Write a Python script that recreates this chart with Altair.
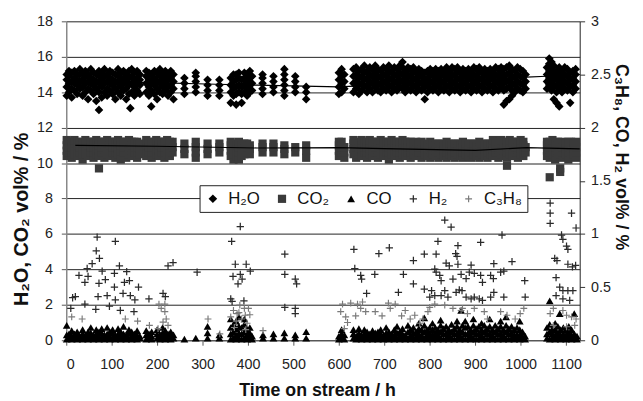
import altair as alt
import pandas as pd

# ---------------- data ----------------
# each tuple: (time on stream / h, value, value, ...)
H2O = [
    (1, 13.8, 14.3, 14.7, 15.0), (6, 14.0, 14.5, 14.9, 15.2), (12, 13.7, 14.2, 14.6, 15.1),
    (18, 14.1, 14.5, 14.8, 15.2), (24, 13.9, 14.4, 14.7, 15.0), (30, 14.2, 14.6, 15.0, 15.3),
    (36, 13.8, 14.3, 14.7, 15.1), (42, 14.0, 14.5, 14.9, 15.2), (48, 13.6, 14.2, 14.6, 15.0),
    (54, 14.1, 14.5, 14.8, 15.3), (60, 13.9, 14.4, 14.7, 15.1), (66, 13.5, 14.2, 14.6, 15.0),
    (72, 13.0, 14.0, 14.5, 14.9, 15.2), (78, 13.7, 14.3, 14.7, 15.1), (84, 14.0, 14.5, 14.9, 15.3),
    (90, 13.8, 14.2, 14.6, 15.0), (96, 14.1, 14.5, 14.8, 15.2), (102, 13.9, 14.4, 14.7, 15.1),
    (108, 13.6, 14.2, 14.6, 15.0), (114, 14.0, 14.5, 14.9, 15.3), (120, 13.8, 14.3, 14.7, 15.1),
    (126, 14.1, 14.5, 14.8, 15.2), (132, 13.6, 14.2, 14.6, 15.0), (138, 13.9, 14.4, 14.8, 15.2),
    (141, 13.1), (144, 14.0, 14.5, 14.9, 15.3), (150, 13.8, 14.3, 14.7, 15.1),
    (156, 14.1, 14.5, 14.8, 15.2), (162, 13.9, 14.4, 14.7, 15.0),
    (176, 14.0, 14.5, 14.9, 15.2), (182, 13.8, 14.3, 14.7, 15.1), (187, 13.2, 14.1, 14.6, 15.0),
    (194, 13.9, 14.4, 14.8, 15.2), (200, 13.6, 14.2, 14.6, 15.1), (206, 14.0, 14.5, 14.9, 15.3),
    (212, 13.9, 14.3, 14.7, 15.1), (218, 14.1, 14.5, 14.9, 15.2), (224, 13.8, 14.3, 14.7, 15.0),
    (230, 14.0, 14.4, 14.8, 15.2), (236, 13.6, 14.2, 14.6, 15.0),
    (260, 13.9, 14.2, 14.5, 14.8), (285, 14.0, 14.3, 14.6, 14.9, 15.1),
    (311, 13.8, 14.1, 14.4, 14.7), (337, 13.8, 14.1, 14.4, 14.7),
    (362, 13.4, 14.0, 14.4, 14.8), (368, 13.8, 14.2, 14.6, 15.0), (374, 13.3, 13.9, 14.3, 14.7, 15.0),
    (380, 14.0, 14.4, 14.8, 15.1), (386, 13.4, 13.9, 14.3, 14.7), (392, 14.0, 14.4, 14.8, 15.1),
    (398, 13.8, 14.2, 14.6, 15.0), (404, 14.0, 14.4, 14.8, 15.2), (409, 14.1, 14.5, 14.9),
    (432, 13.9, 14.2, 14.5, 14.8, 15.0), (456, 14.0, 14.3, 14.6, 14.9),
    (480, 13.8, 14.1, 14.4, 14.7, 15.0, 15.3), (504, 14.0, 14.3, 14.6, 14.9), (528, 13.6, 14.0, 14.3),
    (600, 13.9, 14.3, 14.7, 15.1), (606, 14.0, 14.5, 14.9, 15.3), (612, 14.2, 14.6, 15.0),
    (632, 14.0, 14.5, 14.9, 15.3), (638, 14.2, 14.6, 15.0, 15.4), (644, 13.9, 14.4, 14.8, 15.2),
    (650, 14.1, 14.5, 14.9, 15.3), (656, 14.3, 14.7, 15.1, 15.5), (662, 14.0, 14.4, 14.8, 15.2),
    (668, 14.2, 14.6, 15.0, 15.4), (674, 14.0, 14.5, 14.9, 15.3), (680, 14.3, 14.7, 15.1, 15.5),
    (686, 14.1, 14.5, 14.9, 15.3), (692, 14.0, 14.4, 14.8, 15.2), (698, 14.2, 14.6, 15.0, 15.4),
    (704, 14.1, 14.5, 14.9, 15.3), (710, 14.3, 14.7, 15.1, 15.5), (716, 14.0, 14.4, 14.8, 15.2),
    (722, 14.2, 14.6, 15.0, 15.4), (728, 14.1, 14.5, 14.9, 15.3), (734, 14.3, 14.7, 15.1, 15.5),
    (740, 14.2, 14.6, 15.0, 15.4, 15.7), (746, 14.0, 14.4, 14.8, 15.2), (752, 14.2, 14.6, 15.0, 15.4),
    (758, 14.1, 14.5, 14.9, 15.3), (764, 14.3, 14.7, 15.1, 15.4), (770, 14.0, 14.4, 14.8, 15.2),
    (776, 14.2, 14.6, 15.0, 15.3), (782, 14.1, 14.5, 14.9, 15.2), (789, 13.6, 14.3, 14.7, 15.1),
    (795, 14.0, 14.4, 14.8, 15.2), (801, 14.2, 14.6, 15.0, 15.3), (807, 14.1, 14.5, 14.9, 15.2),
    (813, 14.3, 14.7, 15.0, 15.3), (819, 14.0, 14.4, 14.8, 15.2), (825, 14.2, 14.6, 15.0, 15.3),
    (831, 14.1, 14.5, 14.9, 15.2), (837, 14.3, 14.7, 15.0, 15.4), (843, 14.0, 14.4, 14.8, 15.2),
    (849, 14.2, 14.6, 15.0, 15.4), (855, 14.1, 14.5, 14.9, 15.3), (861, 14.3, 14.7, 15.1, 15.4),
    (867, 14.0, 14.4, 14.8, 15.2), (873, 14.2, 14.6, 15.0, 15.3), (879, 14.1, 14.5, 14.9, 15.2),
    (885, 14.3, 14.7, 15.0, 15.3), (891, 14.0, 14.4, 14.8, 15.2), (897, 14.2, 14.6, 15.0, 15.4),
    (903, 14.1, 14.5, 14.9, 15.3), (909, 14.3, 14.7, 15.1, 15.4), (915, 14.0, 14.4, 14.8, 15.2),
    (921, 14.2, 14.6, 15.0, 15.3), (927, 14.1, 14.5, 14.9, 15.2), (933, 14.3, 14.7, 15.0, 15.3),
    (939, 14.0, 14.4, 14.8, 15.2), (945, 14.2, 14.6, 15.0, 15.4), (951, 14.1, 14.5, 14.9, 15.3),
    (957, 14.3, 14.7, 15.1, 15.4), (963, 13.3, 14.1, 14.5, 14.9, 15.3), (969, 13.5, 14.2, 14.6, 15.0, 15.4),
    (975, 13.6, 14.3, 14.7, 15.1, 15.5), (981, 13.8, 14.1, 14.5, 14.9, 15.3), (987, 14.0, 14.4, 14.8, 15.2),
    (993, 14.2, 14.6, 15.0, 15.4), (999, 14.1, 14.5, 14.9, 15.3), (1005, 14.0, 14.4, 14.8, 15.2),
    (1011, 14.2, 14.6, 15.0),
    (1058, 14.2, 14.6, 15.0, 15.4), (1063, 14.4, 14.8, 15.2, 15.6, 15.9), (1068, 14.1, 14.5, 14.9, 15.3, 15.7),
    (1073, 13.6, 14.3, 14.7, 15.1, 15.5), (1079, 13.4, 14.0, 14.4, 14.8, 15.2), (1085, 13.2, 14.2, 14.6, 15.0, 15.4),
    (1091, 14.0, 14.4, 14.8, 15.2), (1097, 14.2, 14.6, 15.0, 15.4), (1103, 14.1, 14.5, 14.9, 15.3),
    (1109, 13.4, 14.3, 14.7, 15.1), (1115, 14.0, 14.4, 14.8, 15.2), (1121, 14.2, 14.6, 15.0, 15.3),
]

CO2 = [
    (1, 10.4, 10.7, 11.0, 11.3), (6, 10.6, 10.9, 11.2), (12, 10.3, 10.6, 10.9, 11.2),
    (18, 10.5, 10.8, 11.1, 11.3), (24, 10.4, 10.7, 11.0, 11.2), (30, 10.6, 10.9, 11.2),
    (36, 10.2, 10.5, 10.8, 11.1), (42, 10.5, 10.8, 11.1, 11.3), (48, 10.4, 10.7, 11.0, 11.2),
    (54, 10.6, 10.9, 11.2), (60, 10.3, 10.6, 10.9, 11.2), (66, 10.5, 10.8, 11.1, 11.3),
    (72, 9.7, 10.4, 10.7, 11.0, 11.2), (78, 10.6, 10.9, 11.2), (84, 10.3, 10.6, 10.9, 11.2),
    (90, 10.5, 10.8, 11.1, 11.3), (96, 10.4, 10.7, 11.0, 11.2), (102, 10.6, 10.9, 11.2),
    (108, 10.3, 10.6, 10.9, 11.2), (114, 10.5, 10.8, 11.1, 11.3), (120, 10.2, 10.7, 11.0, 11.2),
    (126, 10.6, 10.9, 11.2), (132, 10.3, 10.6, 10.9, 11.2), (138, 10.5, 10.8, 11.1, 11.3),
    (144, 10.4, 10.7, 11.0, 11.2), (150, 10.6, 10.9, 11.2), (156, 10.3, 10.6, 10.9, 11.2),
    (162, 10.5, 10.8, 11.1),
    (176, 10.4, 10.7, 11.0, 11.3), (182, 10.6, 10.9, 11.2), (188, 10.3, 10.6, 10.9, 11.2),
    (198, 10.5, 10.8, 11.1, 11.3), (204, 10.4, 10.7, 11.0, 11.2), (210, 10.6, 10.9, 11.2),
    (216, 10.3, 10.6, 10.9, 11.2), (222, 10.5, 10.8, 11.1, 11.3), (228, 10.4, 10.7, 11.0, 11.2),
    (234, 10.6, 10.9, 11.2),
    (260, 10.5, 10.8, 11.1), (285, 10.3, 10.6, 10.9, 11.2), (311, 10.5, 10.8, 11.1), (337, 10.6, 10.9, 11.1),
    (362, 10.4, 10.7, 11.0, 11.2), (368, 10.2, 10.5, 10.8, 11.1), (374, 10.4, 10.7, 11.0),
    (380, 10.2, 10.6, 10.9, 11.2), (386, 10.4, 10.7, 11.0), (392, 10.5, 10.8, 11.1),
    (398, 10.6, 10.9, 11.1), (404, 10.5, 10.8, 11.0),
    (432, 10.6, 10.9, 11.1), (456, 10.6, 10.9, 11.1), (480, 10.5, 10.8, 11.0), (504, 10.6, 10.9),
    (528, 10.3, 10.7, 11.0),
    (600, 10.4, 10.7, 11.0, 11.2), (606, 10.6, 10.9, 11.2), (612, 10.3, 10.6, 10.9),
    (632, 10.5, 10.8, 11.1, 11.3), (638, 10.3, 10.6, 10.9, 11.2), (644, 10.5, 10.8, 11.1),
    (650, 10.4, 10.7, 11.0, 11.3), (656, 10.6, 10.9, 11.2), (662, 10.3, 10.6, 10.9, 11.2),
    (668, 10.5, 10.8, 11.1, 11.3), (674, 10.4, 10.7, 11.0, 11.2), (680, 10.6, 10.9, 11.2),
    (686, 10.3, 10.6, 10.9, 11.2), (692, 10.5, 10.8, 11.1, 11.3), (698, 10.4, 10.7, 11.0, 11.2),
    (704, 10.6, 10.9, 11.2), (710, 10.2, 10.6, 10.9, 11.2), (716, 10.5, 10.8, 11.1, 11.3),
    (722, 10.4, 10.7, 11.0, 11.2), (728, 10.6, 10.9, 11.2), (734, 10.3, 10.6, 10.9, 11.2),
    (740, 10.5, 10.8, 11.1, 11.3), (746, 10.4, 10.7, 11.0, 11.2), (752, 10.6, 10.9, 11.2),
    (758, 10.3, 10.6, 10.9, 11.2), (764, 10.5, 10.8, 11.1), (770, 10.4, 10.7, 11.0, 11.2),
    (776, 10.6, 10.9, 11.1), (782, 10.3, 10.6, 10.9, 11.2), (789, 10.5, 10.8, 11.1),
    (795, 10.4, 10.7, 11.0), (801, 10.3, 10.6, 10.9, 11.2), (807, 10.5, 10.8, 11.1),
    (813, 10.4, 10.7, 11.0), (819, 10.3, 10.6, 10.9, 11.1), (825, 10.5, 10.8, 11.1),
    (831, 10.4, 10.7, 11.0), (837, 10.3, 10.6, 10.9, 11.2), (843, 10.5, 10.8, 11.1),
    (849, 10.4, 10.7, 11.0), (855, 10.3, 10.6, 10.9, 11.1), (861, 10.5, 10.8, 11.1),
    (867, 10.4, 10.7, 11.0), (873, 10.3, 10.6, 10.9, 11.2), (879, 10.5, 10.8, 11.1),
    (885, 10.4, 10.7, 11.0), (891, 10.3, 10.6, 10.9, 11.1), (897, 10.5, 10.8, 11.1),
    (903, 10.4, 10.7, 11.0), (909, 10.3, 10.6, 10.9, 11.2), (915, 10.5, 10.8, 11.1),
    (921, 10.4, 10.7, 11.0), (927, 10.3, 10.6, 10.9, 11.1), (933, 10.5, 10.8, 11.1),
    (939, 10.4, 10.7, 11.0, 11.3), (945, 10.6, 10.9, 11.2), (951, 10.3, 10.6, 10.9, 11.2),
    (957, 10.5, 10.8, 11.1, 11.3), (963, 10.4, 10.7, 11.0, 11.2), (970, 9.85, 10.3, 10.6, 10.9, 11.2),
    (976, 10.5, 10.8, 11.1, 11.3), (982, 10.4, 10.7, 11.0, 11.2), (988, 10.6, 10.9, 11.2),
    (994, 10.3, 10.6, 10.9, 11.2), (1000, 10.5, 10.8, 11.1, 11.3), (1006, 10.4, 10.7, 11.0, 11.2),
    (1011, 10.6, 10.9),
    (1058, 10.4, 10.7, 11.0, 11.2), (1064, 9.2, 10.3, 10.6, 10.9, 11.2), (1070, 10.5, 10.8, 11.1, 11.3),
    (1076, 10.2, 10.6, 10.9, 11.2), (1082, 10.4, 10.7, 11.0, 11.2), (1087, 9.5, 9.7, 10.5, 10.8, 11.1),
    (1093, 10.3, 10.6, 10.9, 11.2), (1099, 10.5, 10.8, 11.1), (1105, 10.2, 10.6, 10.9, 11.2),
    (1111, 10.4, 10.7, 11.0, 11.2), (1117, 10.5, 10.8, 11.1), (1122, 10.3, 10.6, 10.9, 11.2),
]

CO = [
    (1, 0.01, 0.05, 0.14), (6, 0.02, 0.06), (12, 0.01, 0.04, 0.09), (18, 0.02, 0.06),
    (24, 0.01, 0.05, 0.08), (30, 0.02, 0.04), (36, 0.01, 0.06, 0.1), (42, 0.02, 0.05),
    (48, 0.01, 0.04, 0.08), (54, 0.02, 0.07, 0.12), (60, 0.01, 0.05), (66, 0.02, 0.06, 0.1),
    (72, 0.01, 0.04, 0.08), (78, 0.02, 0.07, 0.11), (84, 0.01, 0.05), (90, 0.02, 0.06, 0.12),
    (96, 0.01, 0.04, 0.08), (102, 0.02, 0.07, 0.1), (108, 0.01, 0.05), (114, 0.02, 0.06, 0.11),
    (120, 0.01, 0.04, 0.08), (126, 0.02, 0.06, 0.13), (132, 0.01, 0.05), (138, 0.02, 0.07, 0.1),
    (144, 0.01, 0.04, 0.08), (150, 0.02, 0.06), (156, 0.01, 0.05, 0.09), (162, 0.02, 0.04),
    (176, 0.01, 0.05, 0.09), (182, 0.02, 0.06), (188, 0.01, 0.04, 0.08), (200, 0.02, 0.06, 0.1),
    (206, 0.01, 0.05), (212, 0.02, 0.07, 0.12), (218, 0.01, 0.05, 0.09), (224, 0.02, 0.06),
    (230, 0.01, 0.04, 0.08), (236, 0.02, 0.05),
    (260, 0.01), (285, 0.02), (311, 0.02, 0.07, 0.13), (337, 0.02, 0.05),
    (362, 0.01, 0.06, 0.12, 0.2), (368, 0.02, 0.08, 0.15), (374, 0.01, 0.05, 0.11, 0.18),
    (380, 0.02, 0.07, 0.13, 0.22), (386, 0.01, 0.06, 0.12), (392, 0.02, 0.08, 0.15, 0.2),
    (398, 0.01, 0.05, 0.1), (404, 0.02, 0.07, 0.12), (409, 0.01, 0.04),
    (433, 0.02, 0.05), (456, 0.02, 0.06), (480, 0.02, 0.07), (504, 0.02, 0.05), (528, 0.02, 0.08),
    (600, 0.01, 0.04), (606, 0.02, 0.06, 0.1), (612, 0.01, 0.05), (632, 0.02, 0.06, 0.1),
    (638, 0.01, 0.04), (644, 0.02, 0.07, 0.11), (650, 0.01, 0.05), (656, 0.02, 0.06, 0.1),
    (662, 0.01, 0.04, 0.08), (668, 0.02, 0.06), (674, 0.01, 0.05, 0.09), (680, 0.02, 0.07),
    (686, 0.01, 0.04, 0.08), (692, 0.02, 0.06, 0.1), (698, 0.01, 0.05), (704, 0.02, 0.07, 0.12),
    (710, 0.01, 0.04, 0.08), (716, 0.02, 0.06), (722, 0.01, 0.05, 0.1), (728, 0.02, 0.07, 0.13),
    (734, 0.01, 0.04, 0.08), (740, 0.02, 0.06, 0.11), (746, 0.01, 0.05), (752, 0.02, 0.08, 0.14),
    (758, 0.01, 0.05, 0.1), (764, 0.02, 0.07, 0.12), (770, 0.01, 0.04, 0.08), (776, 0.02, 0.06, 0.11, 0.16),
    (782, 0.01, 0.05, 0.1), (788, 0.02, 0.08, 0.14, 0.21), (794, 0.01, 0.05, 0.1), (800, 0.02, 0.07, 0.12),
    (806, 0.01, 0.05, 0.1, 0.16), (812, 0.02, 0.07, 0.12), (818, 0.01, 0.05, 0.1), (824, 0.02, 0.08, 0.14, 0.19),
    (830, 0.01, 0.06, 0.11), (836, 0.02, 0.07, 0.13), (842, 0.01, 0.05, 0.1), (848, 0.02, 0.08, 0.15),
    (854, 0.01, 0.06, 0.11), (860, 0.02, 0.07, 0.13, 0.18), (866, 0.01, 0.05, 0.1), (869, 0.28),
    (872, 0.02, 0.08, 0.14), (878, 0.01, 0.06, 0.12, 0.18), (884, 0.02, 0.07, 0.13), (890, 0.01, 0.05, 0.1),
    (896, 0.02, 0.08, 0.14, 0.2), (902, 0.01, 0.06, 0.11), (908, 0.02, 0.07, 0.13), (914, 0.01, 0.05, 0.1, 0.16),
    (920, 0.02, 0.08, 0.14), (926, 0.01, 0.06, 0.11), (932, 0.02, 0.07, 0.13, 0.2), (938, 0.01, 0.05, 0.1),
    (944, 0.02, 0.08, 0.14), (950, 0.01, 0.06, 0.11), (956, 0.02, 0.07, 0.13, 0.18), (962, 0.01, 0.05, 0.1),
    (968, 0.02, 0.08, 0.14, 0.22), (974, 0.01, 0.06, 0.11), (980, 0.02, 0.07, 0.13), (986, 0.01, 0.05, 0.1),
    (992, 0.02, 0.06, 0.12), (998, 0.01, 0.05, 0.1, 0.18), (1004, 0.02, 0.04, 0.08), (1010, 0.01, 0.04),
    (1058, 0.02, 0.06, 0.12), (1064, 0.01, 0.08, 0.15, 0.37), (1070, 0.02, 0.06, 0.11),
    (1076, 0.01, 0.05, 0.1, 0.16), (1082, 0.02, 0.07, 0.13), (1086, 0.25), (1088, 0.01, 0.05, 0.1),
    (1094, 0.02, 0.06, 0.12), (1100, 0.01, 0.05, 0.1), (1106, 0.02, 0.07, 0.13), (1112, 0.01, 0.05, 0.1),
    (1118, 0.02, 0.06, 0.25), (1124, 0.01, 0.04),
]

H2 = [
    (68, 0.97), (108, 0.93), (66, 0.84), (73, 0.77), (57, 0.72), (117, 0.70), (46, 0.675), (79, 0.65),
    (28, 0.61), (48, 0.60), (106, 0.63), (133, 0.645), (86, 0.57), (41, 0.545), (72, 0.536), (106, 0.50),
    (128, 0.545), (139, 0.56), (159, 0.50), (14, 0.40), (20, 0.41), (70, 0.41), (90, 0.42), (108, 0.38),
    (125, 0.44), (141, 0.42), (151, 0.38), (41, 0.34), (10, 0.30), (65, 0.29), (95, 0.32), (119, 0.28),
    (149, 0.27), (182, 0.39), (224, 0.70), (235, 0.73), (213, 0.44), (218, 0.41), (288, 0.64),
    (364, 0.93), (372, 0.715), (396, 0.715), (367, 0.60), (383, 0.62), (387, 0.576), (405, 0.65),
    (378, 0.53), (362, 0.39), (365, 0.365), (391, 0.37), (383, 1.07), (481, 0.81), (481, 0.62),
    (504, 0.576), (507, 0.53), (481, 0.31), (504, 0.30), (504, 0.25), (633, 0.855),
    (959, 0.99), (1090, 0.99), (1093, 0.95), (1101, 0.885), (1104, 0.855), (818, 0.93), (862, 0.89),
    (912, 0.92), (833, 1.13), (847, 1.065), (1065, 1.29), (1065, 1.195), (1112, 1.195), (1065, 1.10),
    (1122, 1.056), (688, 0.815), (711, 0.87), (788, 0.81), (814, 0.81), (857, 0.815), (860, 0.79),
    (764, 0.75), (836, 0.725), (843, 0.70), (862, 0.715), (891, 0.706), (941, 0.72), (981, 0.74),
    (1075, 0.77), (1080, 0.75), (1104, 0.715), (1114, 0.69), (1121, 0.705), (635, 0.675), (648, 0.61),
    (650, 0.576), (679, 0.62), (742, 0.62), (811, 0.67), (814, 0.64), (822, 0.61), (825, 0.56),
    (851, 0.576), (869, 0.62), (880, 0.58), (887, 0.64), (898, 0.63), (912, 0.61), (916, 0.545),
    (934, 0.61), (940, 0.58), (956, 0.64), (963, 0.65), (1009, 0.56), (1078, 0.59), (1086, 0.50),
    (1093, 0.467), (1104, 0.467), (1115, 0.467), (1078, 0.42), (1093, 0.39), (1108, 0.375),
    (661, 0.44), (731, 0.45), (788, 0.48), (764, 0.53), (804, 0.467), (833, 0.467), (800, 0.405),
    (811, 0.42), (825, 0.42), (840, 0.405), (858, 0.45), (865, 0.474), (871, 0.467), (880, 0.405),
    (891, 0.39), (898, 0.405), (909, 0.39), (916, 0.375), (934, 0.405), (941, 0.45), (963, 0.405),
    (1010, 0.405),
]

C3H8 = [
    (608, 0.34), (626, 0.35), (641, 0.34), (652, 0.36), (604, 0.27), (615, 0.22), (619, 0.167),
    (612, 0.11), (648, 0.30), (659, 0.27), (637, 0.23), (680, 0.27), (695, 0.23), (713, 0.30),
    (724, 0.34), (709, 0.35), (746, 0.28), (738, 0.23), (757, 0.20), (767, 0.235), (778, 0.16),
    (785, 0.20), (796, 0.27), (800, 0.31), (811, 0.34), (833, 0.33), (851, 0.30), (869, 0.28),
    (872, 0.30), (883, 0.25), (898, 0.30), (920, 0.27), (927, 0.20), (956, 0.27), (970, 0.235),
    (988, 0.20), (999, 0.25), (1007, 0.30), (1065, 0.25), (1072, 0.30), (1093, 0.28), (1101, 0.235),
    (1112, 0.22), (1122, 0.20), (1072, 0.14), (1101, 0.127), (1119, 0.14),
    (12, 0.22), (35, 0.20), (130, 0.20), (157, 0.18), (204, 0.34), (217, 0.34), (209, 0.30),
    (217, 0.27), (220, 0.20), (213, 0.17), (224, 0.14), (183, 0.14), (202, 0.11), (312, 0.20),
    (338, 0.06), (433, 0.09), (401, 0.30), (394, 0.235), (376, 0.25), (382, 0.33),
    (362, 0.22), (368, 0.28), (374, 0.18), (380, 0.26), (386, 0.20), (392, 0.30), (398, 0.16),
    (404, 0.24), (370, 0.12), (395, 0.10),
]

# fitted trend lines through the H2O and CO2 data
H2O_TREND = [(0, 14.6), (170, 14.55), (330, 14.45), (420, 14.4), (600, 14.3), (800, 14.55),
             (1013, 14.85), (1057, 14.9), (1130, 15.0)]
CO2_TREND = [(20, 11.0), (200, 10.95), (420, 10.85), (600, 10.87), (700, 10.82), (900, 10.72),
             (1013, 10.87), (1130, 10.8)]

SERIES = ["H\u2082O", "CO\u2082", "CO", "H\u2082", "C\u2083H\u2088"]
COLORS = ["#000000", "#3a3a3a", "#000000", "#2a2a2a", "#7a7a7a"]
X_TICKS = [0, 100, 200, 300, 400, 500, 600, 700, 800, 900, 1000, 1100]
LEFT_TICKS = [0, 2, 4, 6, 8, 10, 12, 14, 16, 18]
RIGHT_TICKS = [0, 0.5, 1, 1.5, 2, 2.5, 3]

# ---------------- tables ----------------
def expand(name, cols):
    out = []
    for c in cols:
        for v in c[1:]:
            out.append({"series": name, "t": c[0], "v": v})
    return out

left_df = pd.DataFrame(expand(SERIES[0], H2O) + expand(SERIES[1], CO2))
right_df = pd.DataFrame(expand(SERIES[2], CO) + expand(SERIES[3], H2) + expand(SERIES[4], C3H8))
trend_df = pd.DataFrame(expand("h2o", H2O_TREND) + expand("co2", CO2_TREND))

FONT = "Liberation Sans"
# thin filled plus sign
PLUS = "M-1,-0.17L1,-0.17L1,0.17L-1,0.17Z M-0.17,-1L0.17,-1L0.17,1L-0.17,1Z"

shape_scale = alt.Scale(domain=SERIES, range=["diamond", "square", "triangle-up", PLUS, PLUS])
color_scale = alt.Scale(domain=SERIES, range=COLORS)
size_scale = alt.Scale(domain=SERIES, range=[76, 48, 36, 42, 26])

leg = alt.Legend(orient="none", legendX=135, legendY=166, direction="horizontal", title=None,
                 labelFont=FONT, labelFontSize=17, labelColor="#111", symbolSize=24,
                 padding=5, strokeColor="#222", fillColor="white",
                 columnPadding=13, labelOffset=7)

x_enc = alt.X("t:Q", scale=alt.Scale(domain=[0, 1130], nice=False, zero=False),
              axis=alt.Axis(values=X_TICKS, format="d", title="Time on stream / h", grid=False,
                            labelFontSize=14.5, labelPadding=13, tickSize=5, labelOverlap=False,
                            titleFontSize=18, titleFontWeight="bold",
                            titleX=254, titleY=56, titleBaseline="alphabetic",
                            domainColor="#555", tickColor="#555"))

y_left = alt.Y("v:Q", scale=alt.Scale(domain=[0, 18], nice=False),
               axis=alt.Axis(values=LEFT_TICKS, title="H\u2082O, CO\u2082 vol% / %",
                             grid=True, gridColor="#222", gridWidth=1, labelOverlap=False,
                             labelFontSize=14.5, labelPadding=9, tickSize=5,
                             titleFontSize=20, titleFontWeight="bold",
                             titleX=-45, titleY=200, titleAlign="center", titleBaseline="middle",
                             domainColor="#888", domainWidth=1.5, tickColor="#555"))

y_right = alt.Y("v:Q", scale=alt.Scale(domain=[0, 3], nice=False),
                axis=alt.Axis(orient="right", values=RIGHT_TICKS, format="~g", labelOverlap=False,
                              title="C\u2083H\u2088, CO, H\u2082 vol% / %", grid=False,
                              labelFontSize=14.5, labelPadding=6, tickSize=5,
                              titleFontSize=18, titleFontWeight="bold", titleAngle=90,
                              titleX=41, titleY=137, titleAlign="center", titleBaseline="middle",
                              domainColor="#222", tickColor="#333"))

common = dict(
    shape=alt.Shape("series:N", scale=shape_scale, legend=leg, sort=SERIES),
    color=alt.Color("series:N", scale=color_scale, legend=leg, sort=SERIES),
    size=alt.Size("series:N", scale=size_scale, legend=None, sort=SERIES),
)

left_pts = alt.Chart(left_df).mark_point(filled=True, opacity=1).encode(
    x=x_enc, y=y_left, **common)
trend = alt.Chart(trend_df).mark_line(color="#000", strokeWidth=1.2).encode(
    x=x_enc, y=y_left, detail="series:N")
right_pts = alt.Chart(right_df).mark_point(filled=True, opacity=1).encode(
    x=x_enc, y=y_right, **common)

chart = alt.layer(alt.layer(left_pts, trend), right_pts).resolve_scale(y="independent").properties(
    width=520, height=323,
    padding={"left": 59, "top": 11, "right": 56, "bottom": 58},
    autosize=alt.AutoSizeParams(type="none"),
).configure(font=FONT).configure_view(stroke=None).configure_axis(
    labelFont=FONT, titleFont=FONT, labelColor="#222", titleColor="#111")

chart.save("out.html", embed_options={"renderer": "svg", "actions": False})
